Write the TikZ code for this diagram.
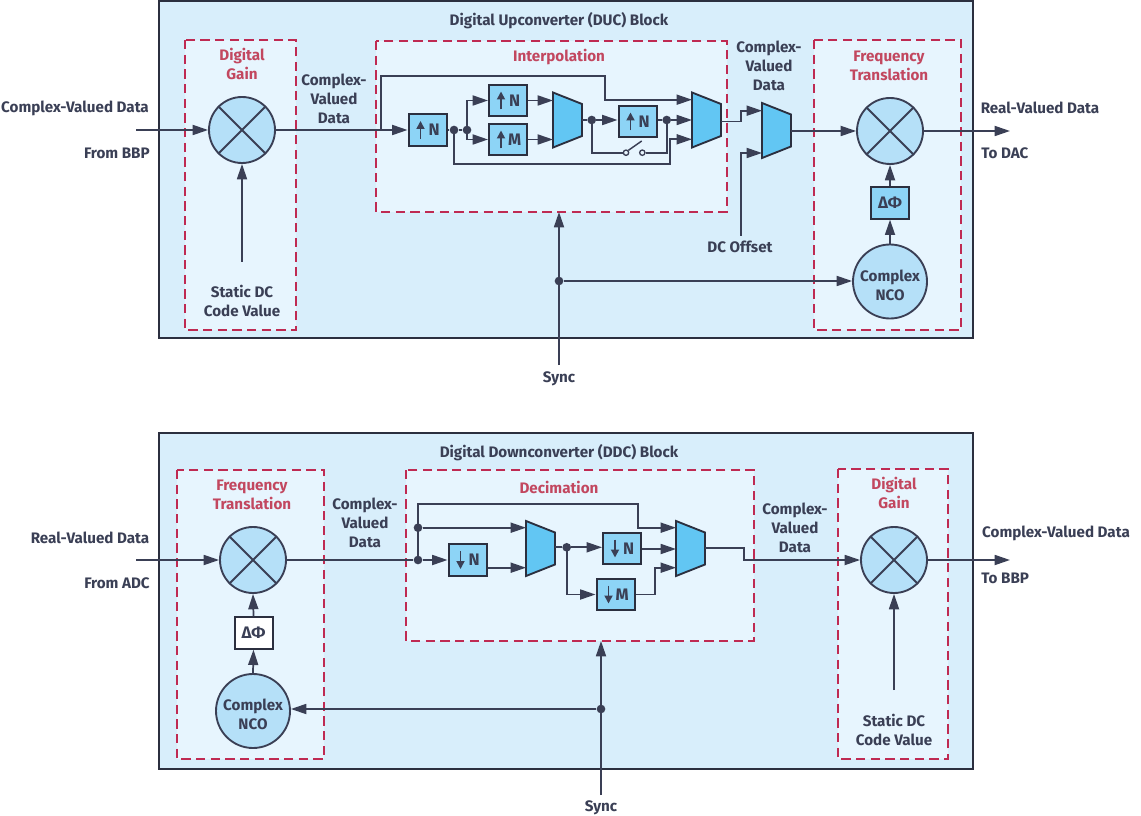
\documentclass[tikz,border=0pt]{standalone}
\usepackage{fontspec}
\setmainfont{Fira Sans}
\usetikzlibrary{arrows.meta,calc,positioning}
\definecolor{ink}{HTML}{3A3F55}
\definecolor{frame}{HTML}{2B2F3F}
\definecolor{blockfill}{HTML}{D8EEFB}
\definecolor{innerfill}{HTML}{E7F5FE}
\definecolor{dashred}{HTML}{BF2A52}
\definecolor{titlered}{HTML}{C2475F}
\definecolor{mixfill}{HTML}{B5E0F8}
\definecolor{boxfill}{HTML}{8DD4F6}
\definecolor{muxfill}{HTML}{62C6F3}
\tikzset{
  x=0.75pt,y=-0.75pt,
  every node/.style={font=\fontsize{11.4}{14.25}\selectfont\bfseries},
  block/.style={draw=frame,line width=1.6pt,fill=blockfill},
  group/.style={draw=dashred,line width=1.4pt,fill=innerfill,dash pattern=on 7pt off 4pt},
  lbl/.style={text=ink,align=center,inner sep=0pt,yshift=-1pt},
  redlbl/.style={text=titlered,align=center,inner sep=0pt,yshift=-0.5pt},
  conn/.style={draw=ink,line width=1.3pt},
  arr/.style={conn,-{Triangle[length=11.5pt,width=7.5pt]}},
  mixer/.style={circle,draw=ink,line width=1.4pt,fill=mixfill,minimum size=49.5pt,inner sep=0pt},
  nco/.style={circle,draw=ink,line width=1.4pt,fill=mixfill,minimum size=55.5pt,inner sep=0pt,text=ink,align=center},
  ratebox/.style={draw=frame,line width=1.5pt,fill=boxfill,minimum width=28.5pt,minimum height=23.5pt,inner sep=0pt,text=ink},
  phasebox/.style={draw=frame,line width=1.5pt,minimum width=28.5pt,minimum height=23.5pt,inner sep=0pt,text=ink},
  muxshape/.style={draw=frame,line width=1.4pt,fill=muxfill,line join=miter},
  dot/.style={circle,fill=ink,minimum size=6.5pt,inner sep=0pt},
  pin/.style={circle,draw=ink,line width=1pt,fill=innerfill,minimum size=4pt,inner sep=0pt},
}
% rate box: name, x, y, u/d sign, letter
\newcommand{\ratenode}[5]{%
  \node[ratebox] (#1) at (#2,#3) {\hspace*{10pt}\fontsize{12.5}{12.5}\selectfont #5};
  \draw[draw=ink,line width=1.3pt,-{Triangle[length=6pt,width=6pt]}]
    ($(#1.center)+(-7,#4*9)$) -- ($(#1.center)+(-7,#4*-9)$);}
% mixer with crossing lines
\newcommand{\mixernode}[3]{%
  \node[mixer] (#1) at (#2,#3) {};
  \draw[draw=ink,line width=1.4pt] (#1.45) -- (#1.225) (#1.135) -- (#1.315);}
% mux: x left, x right, y centre
\newcommand{\muxnode}[3]{%
  \draw[muxshape] (#1,#3-27.5) -- (#2,#3-16) -- (#2,#3+16) -- (#1,#3+27.5) -- cycle;}
\begin{document}
\begin{tikzpicture}
\useasboundingbox (0,0) rectangle (1141,816);
% ---------- outer blocks
\draw[block] (159,1) rectangle (973,338);
\draw[block] (159,433) rectangle (973,769);
% ---------- groups
\draw[group] (185,40) rectangle (296,330);
\draw[group] (376,41) rectangle (727,212);
\draw[group] (814,40) rectangle (961,330);
\draw[group] (177,470) rectangle (324,759);
\draw[group] (406,470) rectangle (754,641);
\draw[group] (838,469) rectangle (948,759);
% ---------- titles
\node[lbl] (t1) at (559,19) {Digital Upconverter (DUC) Block};
\node[lbl] (t2) at (559,451) {Digital Downconverter (DDC) Block};
\node[redlbl] (g1) at (242,63) {Digital\\Gain};
\node[redlbl] (g2) at (559,56) {Interpolation};
\node[redlbl] (g3) at (889,65) {Frequency\\Translation};
\node[redlbl] (g4) at (252,494) {Frequency\\Translation};
\node[redlbl] (g5) at (559,486.5) {Decimation};
\node[redlbl] (g6) at (894,492.5) {Digital\\Gain};
% ---------- top block nodes
\mixernode{mixA}{242}{130}
\mixernode{mixB}{890}{131}
\node[nco] (ncoA) at (890,281.5) {\rule{0pt}{14pt}Complex\\NCO};
\node[phasebox,fill=boxfill] (phA) at (890,203) {\fontsize{12.5}{12.5}\selectfont ΔΦ};
\ratenode{ra}{427.5}{130}{1}{N}
\ratenode{rb}{508}{100.5}{1}{N}
\ratenode{rc}{508}{139.5}{1}{M}
\ratenode{rd}{637.5}{121.5}{1}{N}
\muxnode{553}{582}{120}
\muxnode{692}{721}{120}
\muxnode{762}{791}{130.5}
\node[dot] (d1) at (454,130) {};
\node[dot] (d2) at (467,130) {};
\node[dot] (d3) at (591.7,120) {};
\node[dot] (d4) at (666.7,120) {};
\node[dot] (d5) at (559,281) {};
\node[pin] (s1) at (626,152.7) {};
\node[pin] (s2) at (642.3,152.7) {};
\coordinate (j0) at (380.7,130);
\coordinate (m1a) at (553,100.5);
\coordinate (m1b) at (553,139.5);
\coordinate (m1o) at (582,120);
\coordinate (m2a) at (692,99.7);
\coordinate (m2b) at (692,120);
\coordinate (m2c) at (692,139.3);
\coordinate (m2o) at (721,121.5);
\coordinate (m3a) at (762,110.7);
\coordinate (m3b) at (762,153);
\coordinate (m3o) at (791,131);
\coordinate (inA) at (136,130);
\coordinate (outA) at (1010,131);
\coordinate (dcA) at (741,236);
\coordinate (gainA) at (242,262);
\coordinate (syncA) at (559,365);
\coordinate (syncAt) at (559,212);
% ---------- top connectors
\draw[arr] (inA) -- (mixA.west);
\draw[arr] (mixA.east) -- (ra.west);
\draw[arr] (gainA) -- (mixA.south);
\draw[conn] (ra.east) -- (d1) -- (d2);
\draw[arr] (d2.center) |- (rb.west);
\draw[arr] (d2.center) |- (rc.west);
\draw[arr] (rb.east) -- (m1a);
\draw[arr] (rc.east) -- (m1b);
\draw[conn] (m1o) -- (d3);
\draw[arr] (d3) -- (rd.west |- d3);
\draw[conn] (rd.east |- d4) -- (d4);
\draw[arr] (d4) -- (m2b);
\draw[conn] (d3.center) |- (s1.west);
\draw[conn] (s2.east) -| (d4.center);
\draw[conn,line width=1.1pt] (s1.north east) -- (641.7,141);
\draw[arr] (j0) -- (380.7,75.7) -- (605,75.7) -- (605,99.7) -- (m2a);
\draw[arr] (d1.center) -- (454,163.7) -- (670,163.7) -- (670,139.3) -- (m2c);
\draw[arr] (m2o) -- (740.7,121.5) -- (740.7,110.7) -- (m3a);
\draw[arr] (dcA) -- (741,153) -- (m3b);
\draw[arr] (m3o) -- (mixB.west);
\draw[arr] (mixB.east) -- (outA);
\draw[arr] (phA.north) -- (mixB.south);
\draw[arr] (ncoA.north) -- (phA.south);
\draw[arr] (syncA) -- (syncAt);
\draw[arr] (d5) -- (ncoA.west |- d5);
% ---------- top labels
\node[lbl] (l1) at (75,107) {Complex-Valued Data};
\node[lbl,anchor=east] (l2) at (150,152) {From BBP};
\node[lbl] (l3) at (334,98) {Complex-\\Valued\\Data};
\node[lbl] (l4) at (242,299.5) {Static DC\\Code Value};
\node[lbl] (l5) at (769,65) {Complex-\\Valued\\Data};
\node[lbl] (l6) at (740,246) {DC Offset};
\node[lbl] (l7) at (559,377) {Sync};
\node[lbl] (l8) at (1040,107) {Real-Valued Data};
\node[lbl,anchor=west] (l9) at (981,152) {To DAC};
% ---------- bottom block nodes
\mixernode{mixC}{253}{560}
\mixernode{mixD}{894}{560}
\node[nco] (ncoB) at (253,711) {\rule{0pt}{14pt}Complex\\NCO};
\node[phasebox,fill=white] (phB) at (253.5,633) {\fontsize{12.5}{12.5}\selectfont ΔΦ};
\ratenode{re}{467.5}{560}{-1}{N}
\ratenode{rf}{622}{548.5}{-1}{N}
\ratenode{rg}{615.5}{594.5}{-1}{M}
\muxnode{526}{555}{548.5}
\muxnode{676}{705}{548.5}
\node[dot] (d6) at (418,560) {};
\node[dot] (d7) at (418,527.7) {};
\node[dot] (d8) at (566.7,547.3) {};
\node[dot] (d9) at (601,709) {};
\coordinate (n1a) at (526,527.7);
\coordinate (n1b) at (526,567.7);
\coordinate (n1o) at (555,547.3);
\coordinate (n2a) at (676,527.7);
\coordinate (n2b) at (676,549);
\coordinate (n2c) at (676,567.7);
\coordinate (n2o) at (705,547.7);
\coordinate (inB) at (136,560);
\coordinate (outB) at (1010,560);
\coordinate (gainB) at (894,690);
\coordinate (syncB) at (601,795);
\coordinate (syncBt) at (601,641);
% ---------- bottom connectors
\draw[arr] (inB) -- (mixC.west);
\draw[conn] (mixC.east) -- (d6);
\draw[arr] (d6) -- (re.west |- d6);
\draw[conn] (d6.center) -- (d7.center);
\draw[arr] (d7) -- (n1a);
\draw[arr] (d7.center) -- (418,504) -- (638,504) -- (638,527.7) -- (n2a);
\draw[arr] (re.east |- n1b) -- (n1b);
\draw[conn] (n1o) -- (d8);
\draw[arr] (d8) -- (rf.west |- d8);
\draw[arr] (rf.east |- n2b) -- (n2b);
\draw[arr] (d8.center) |- (rg.west);
\draw[arr] (rg.east) -- (655,594.5) -- (655,567.7) -- (n2c);
\draw[arr] (n2o) -- (744,547.7) -- (744,560) -- (mixD.west);
\draw[arr] (mixD.east) -- (outB);
\draw[arr] (gainB) -- (mixD.south);
\draw[arr] (phB.north) -- (mixC.south);
\draw[arr] (ncoB.north) -- (phB.south);
\draw[arr] (syncB) -- (syncBt);
\draw[arr] (d9) -- (ncoB.east |- d9);
% ---------- bottom labels
\node[lbl] (b1) at (90,537) {Real-Valued Data};
\node[lbl,anchor=east] (b2) at (150,582) {From ADC};
\node[lbl] (b3) at (365,522) {Complex-\\Valued\\Data};
\node[lbl] (b4) at (795,527) {Complex-\\Valued\\Data};
\node[lbl] (b5) at (894,728.5) {Static DC\\Code Value};
\node[lbl] (b6) at (601,806) {Sync};
\node[lbl] (b7) at (1056,532) {Complex-Valued Data};
\node[lbl,anchor=west] (b8) at (981,577) {To BBP};
\end{tikzpicture}
\end{document}
